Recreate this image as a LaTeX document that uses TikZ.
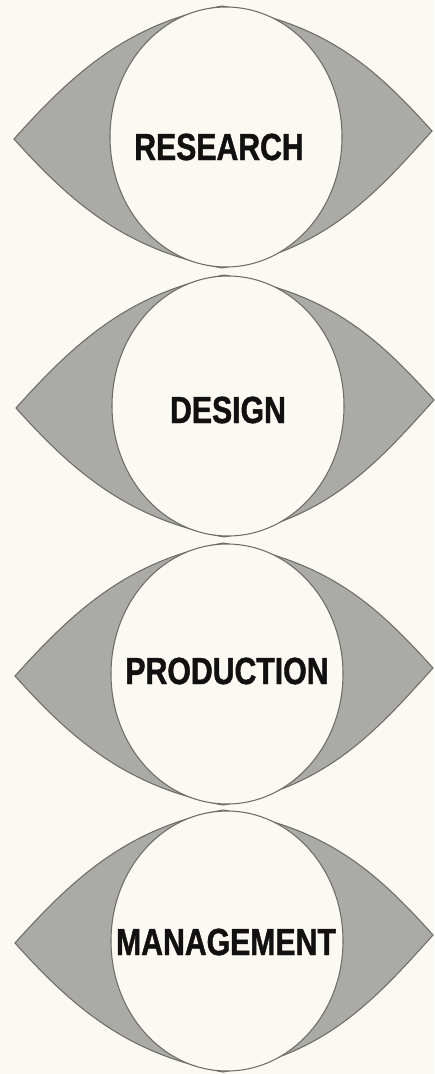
\documentclass[tikz,border=0pt]{standalone}
\usepackage{xcolor}
\usepackage{fontspec}
\newfontfamily\labelfont[FakeStretch=0.8, BoldFeatures={FakeBold=1.2}]{Liberation Sans}
\usepackage{tikz}
\usetikzlibrary{positioning}
\definecolor{paper}{HTML}{FBFAF2}
\definecolor{lid}{HTML}{AAAAA6}
\definecolor{rim}{HTML}{6C6C69}
\definecolor{ink}{HTML}{111111}

\begin{document}
\begin{tikzpicture}[
    x=0.02cm, y=-0.02cm,
    eye/.pic={
        \fill[lid, draw=rim, line width=0.6pt] (-212,2)
            .. controls (-152,-65) and (-98,-113) .. (-4,-131)
            .. controls (98,-113) and (146,-73) .. (206,-6)
            .. controls (146,61) and (98,113) .. (-4,131)
            .. controls (-98,113) and (-152,69) .. (-212,2) -- cycle;
        \fill[paper, draw=rim, line width=0.6pt] (0,0) ellipse [x radius=116, y radius=130];
    },
    tag/.style={font=\labelfont\bfseries\fontsize{21.5}{22}\selectfont, text=ink, inner sep=0pt}
]
    \fill[paper] (0,0) rectangle (434,1074);
    \useasboundingbox (0,0) rectangle (434,1074);

    \pic at (226,137) {eye};
    \pic at (228,406) {eye};
    \pic at (227,674) {eye};
    \pic at (227,941) {eye};

    \node[tag] (research) at (219,147) {RESEARCH};
    \node[tag] (design) at (228,410) {DESIGN};
    \node[tag] (production) at (227,671) {PRODUCTION};
    \node[tag] (management) at (226,942) {MANAGEMENT};
\end{tikzpicture}
\end{document}
